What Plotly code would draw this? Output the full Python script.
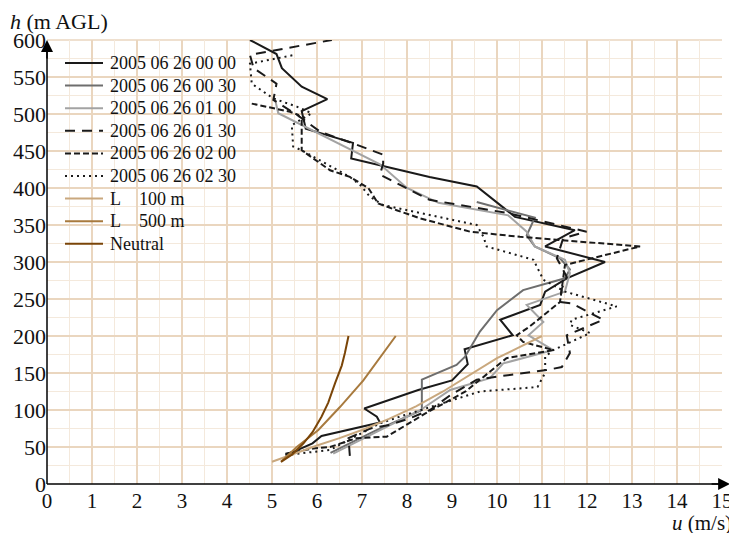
import plotly.graph_objects as go

# ---- data (u in m/s, h in m AGL) ----
u_0000 = [5.3, 5.5, 5.9, 6.1, 7.4, 7.33, 7.05, 8.25, 9.0, 9.35, 9.28, 10.35, 10.07, 10.96, 11.07, 11.55, 12.4, 11.07, 11.73, 10.4, 9.55, 8.5, 6.76, 6.8, 5.75, 5.66, 6.23, 5.66, 5.22, 5.1, 4.51]
h_0000 = [40, 44, 55, 65, 83, 91, 102, 127, 140, 162, 182, 201, 222, 242, 260, 278, 300, 321, 343, 361, 402, 415, 440, 461, 480, 504, 520, 537, 562, 581, 600]

u_0030 = [6.3, 7.3, 8.33, 8.33, 9.1, 9.29, 9.62, 10.0, 10.58, 11.51, 11.62, 11.4, 10.84, 10.66, 10.84, 9.55]
h_0030 = [42, 72, 100, 141, 161, 172, 206, 235, 262, 278, 290, 305, 321, 336, 360, 381]

u_0100 = [6.36, 7.3, 8.3, 8.96, 9.84, 10.14, 11.25, 10.7, 11.03, 10.66, 11.51, 11.62, 11.51, 10.84, 10.66, 10.25, 8.7, 8.0, 7.4, 5.14, 5.07]
h_0100 = [41, 70, 100, 127, 143, 163, 181, 201, 219, 242, 260, 285, 303, 321, 341, 363, 380, 400, 432, 501, 519]

u_0130 = [6.73, 6.7, 7.18, 7.62, 8.07, 8.51, 8.96, 9.55, 9.99, 11.1, 11.44, 11.62, 11.55, 12.36, 11.66, 11.4, 11.44, 11.55, 11.33, 11.47, 11.99, 11.7, 10.25, 8.5, 7.4, 7.47, 7.47, 6.81, 6.07, 5.6, 5.03, 5.1, 4.59, 4.51, 6.33]
h_0130 = [38, 62, 75, 80, 89, 100, 120, 141, 145, 154, 158, 177, 201, 222, 244, 246, 264, 280, 305, 332, 341, 345, 366, 384, 418, 433, 445, 460, 476, 497, 519, 541, 562, 580, 600]

u_0200 = [5.3, 5.92, 6.29, 6.88, 7.55, 8.4, 9.3, 9.8, 10.21, 11.25, 10.58, 10.44, 10.73, 11.4, 11.44, 11.51, 13.18, 10.51, 9.4, 8.29, 7.77, 7.36, 7.14, 6.73, 6.29, 5.99, 5.66, 5.66, 5.58, 5.4, 4.55]
h_0200 = [41, 48, 50, 62, 64, 95, 125, 150, 170, 181, 192, 201, 213, 246, 264, 296, 321, 334, 341, 359, 370, 379, 400, 415, 424, 437, 451, 492, 499, 503, 514]

u_0230 = [5.3, 5.99, 6.29, 7.4, 7.84, 9.62, 10.9, 11.07, 11.07, 11.25, 12.07, 11.62, 11.66, 12.66, 11.51, 11.03, 10.81, 9.77, 9.7, 9.55, 8.14, 7.47, 7.18, 6.96, 6.73, 5.66, 5.47, 5.44, 5.88, 5.55, 5.03, 4.55, 4.51, 5.51]
h_0230 = [39, 44, 46, 82, 91, 125, 131, 150, 172, 181, 204, 215, 222, 240, 260, 276, 303, 321, 334, 350, 368, 377, 388, 404, 415, 451, 456, 485, 501, 510, 521, 541, 568, 580]

u_L100 = [5.0, 5.45, 6.0, 6.5, 7.0, 7.6, 8.2, 8.8, 9.4, 10.0, 10.5, 11.0]
h_L100 = [30, 40, 52, 62, 73, 88, 105, 125, 147, 170, 185, 200]

u_L500 = [5.2, 5.55, 6.03, 6.51, 7.03, 7.47, 7.75]
h_L500 = [30, 50, 73, 104, 140, 177, 200]

u_neutral = [5.2, 5.45, 5.7, 5.9, 6.1, 6.25, 6.4, 6.55, 6.62, 6.7]
h_neutral = [30, 40, 55, 70, 91, 110, 136, 160, 177, 200]

x_ticks = list(range(0, 16))
y_ticks = list(range(0, 601, 50))

series_names = ["2005 06 26 00 00", "2005 06 26 00 30", "2005 06 26 01 00",
                "2005 06 26 01 30", "2005 06 26 02 00", "2005 06 26 02 30",
                "L\u00a0\u00a0\u00a0\u00a0100 m", "L\u00a0\u00a0\u00a0\u00a0500 m", "Neutral"]
series_u = [u_0000, u_0030, u_0100, u_0130, u_0200, u_0230, u_L100, u_L500, u_neutral]
series_h = [h_0000, h_0030, h_0100, h_0130, h_0200, h_0230, h_L100, h_L500, h_neutral]
colors = ["#1a1a1a", "#6e6e6e", "#a3a3a3", "#1a1a1a", "#1a1a1a", "#1a1a1a",
          "#c9a87e", "#a87a3e", "#7a4508"]
dashes = ["solid", "solid", "solid", "10px,7px", "6px,3px", "2px,4px", "solid", "solid", "solid"]

FONT = "Liberation Serif"
major = "#ead6bf"
minor = "#f4e9dc"

# the page body has an 8px margin: figure is sized so it fits the 737x533 window
W, H = 729, 525
ML, MR, MT, MB = 39, 15, 32, 49
PW, PH = W - ML - MR, H - MT - MB

def px(xf):
    return (xf - ML) / PW

def py(yf):
    return (H - MB - yf) / PH

fig = go.Figure()
for name, u, h, col, dash in zip(series_names, series_u, series_h, colors, dashes):
    fig.add_trace(go.Scatter(x=u, y=h, mode="lines", name=name, showlegend=False,
                             line=dict(color=col, dash=dash, width=2),
                             cliponaxis=False))

fig.update_layout(
    width=W, height=H,
    margin=dict(l=ML, r=MR, t=MT, b=MB, autoexpand=False),
    paper_bgcolor="white", plot_bgcolor="white",
    font=dict(family=FONT, size=18, color="#111"),
    showlegend=False,
    xaxis=dict(range=[0, 15], tickvals=x_ticks, showgrid=True, gridcolor=major, gridwidth=1.5,
               minor=dict(dtick=0.5, showgrid=True, gridcolor=minor, gridwidth=1),
               automargin=False, ticklabelstandoff=2,
               zeroline=False, showline=False, ticks="", tickfont=dict(family=FONT, size=21, color="#111")),
    yaxis=dict(range=[0, 600], tickvals=y_ticks, showgrid=True, gridcolor=major, gridwidth=1.5,
               minor=dict(dtick=25, showgrid=True, gridcolor=minor, gridwidth=1),
               automargin=False,
               zeroline=False, showline=False, ticks="", tickfont=dict(family=FONT, size=22, color="#111")),
)

# top border
fig.add_shape(type="line", xref="paper", yref="paper", x0=0, x1=1, y0=1, y1=1,
              line=dict(color=major, width=1.5), layer="below")

# manual legend (white box over the grid)
fig.add_shape(type="rect", xref="paper", yref="paper",
              x0=px(44), x1=px(242), y0=py(250), y1=py(37),
              fillcolor="white", line=dict(width=0), layer="between")
for i, (name, col, dash) in enumerate(zip(series_names, colors, dashes)):
    yc = 55 + 22.6 * i
    fig.add_shape(type="line", xref="paper", yref="paper",
                  x0=px(57), x1=px(95), y0=py(yc), y1=py(yc),
                  line=dict(color=col, dash=dash, width=2), layer="above")
    fig.add_annotation(xref="paper", yref="paper", x=px(100), y=py(yc),
                       xanchor="left", yanchor="middle", text=name, showarrow=False,
                       font=dict(family=FONT, size=18, color="#111"))

# axes lines
fig.add_shape(type="line", xref="paper", yref="paper", x0=0, x1=1.0, y0=0, y1=0,
              line=dict(color="black", width=1.5))
fig.add_shape(type="line", xref="paper", yref="paper", x0=0, x1=0, y0=0, y1=0.98,
              line=dict(color="black", width=1.5))
# arrows
fig.add_annotation(xref="paper", yref="paper", x=1.012, y=0, ax=-20, ay=0, text="",
                   showarrow=True, arrowhead=2, arrowsize=1.6, arrowwidth=1.5, arrowcolor="black")
fig.add_annotation(xref="paper", yref="paper", x=0, y=1.0, ax=0, ay=20, text="",
                   showarrow=True, arrowhead=2, arrowsize=1.6, arrowwidth=1.5, arrowcolor="black")

# axis titles
fig.add_annotation(xref="paper", yref="paper", x=px(0), y=py(14), xanchor="left", yanchor="middle",
                   text="<i>h</i> (m AGL)", showarrow=False, font=dict(family=FONT, size=22, color="#111"))
fig.add_annotation(xref="paper", yref="paper", x=px(726), y=py(515), xanchor="right", yanchor="middle",
                   text="<i>u</i> (m/s)", showarrow=False, font=dict(family=FONT, size=21, color="#111"))

fig.write_html("out.html")
